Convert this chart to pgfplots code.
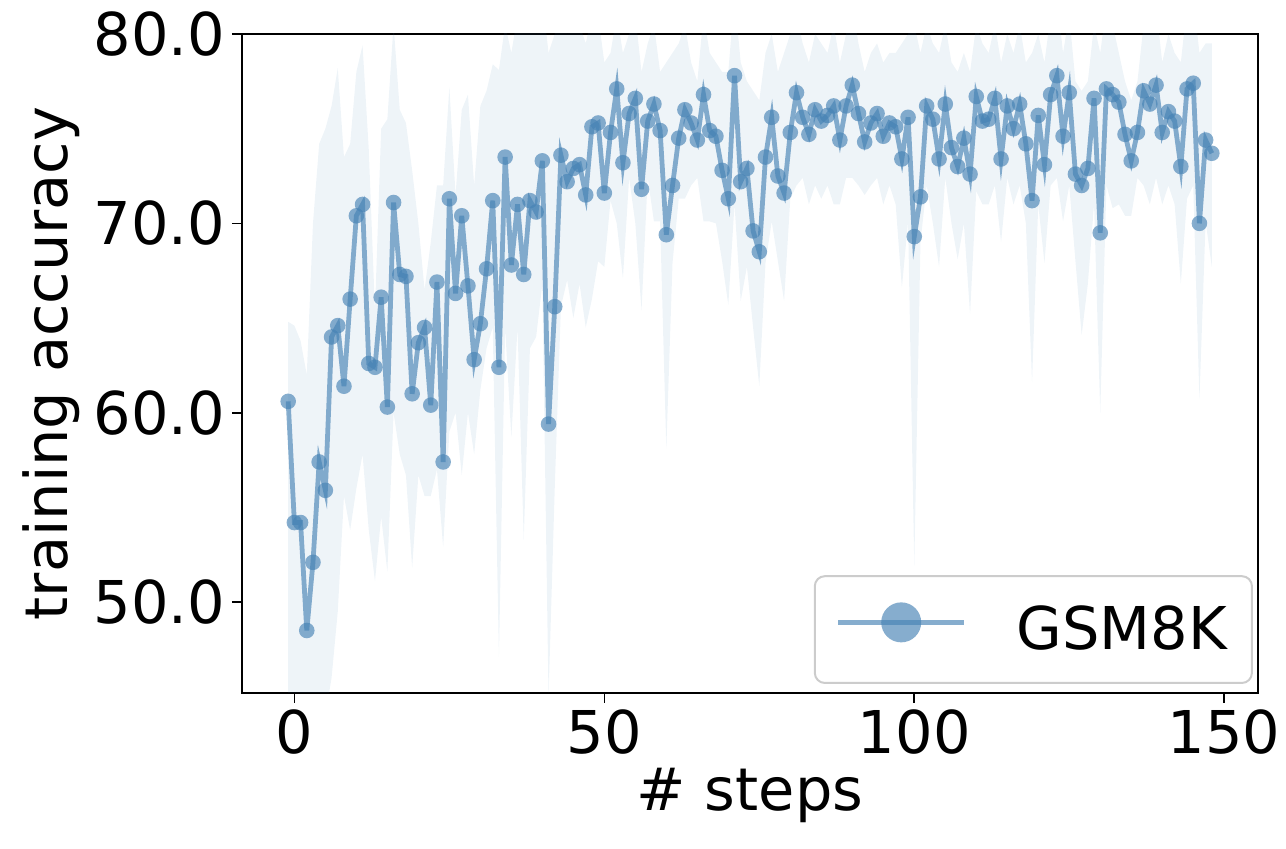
\documentclass[border=0pt]{standalone}
\usepackage{fontspec}
\setmainfont{DejaVu Sans}
\usepackage{pgfplots}
\usepackage{pgfplotstable}
\pgfplotsset{compat=1.18}
\usepgfplotslibrary{fillbetween}
\definecolor{steel}{HTML}{4682B4}

\pgfplotstableread{
x y lo hi
-1 60.6 44.0 64.8
0 54.2 44.0 64.6
1 54.2 44.0 63.8
2 48.5 44.0 62.0
3 52.1 44.0 70.0
4 57.4 44.0 74.2
5 55.9 44.0 75.0
6 64.0 46.0 76.2
7 64.6 49.5 78.2
8 61.4 55.6 73.5
9 66.0 53.8 74.2
10 70.4 56.0 78.0
11 71.0 57.8 79.4
12 62.6 53.8 73.9
13 62.4 51.1 65.4
14 66.1 54.5 75.0
15 60.3 51.6 75.5
16 71.1 60.0 80.5
17 67.3 57.8 76.0
18 67.2 56.7 75.3
19 61.0 51.8 72.8
20 63.7 56.7 70.0
21 64.5 55.6 66.5
22 60.4 55.6 69.0
23 66.9 57.0 72.0
24 57.4 52.9 72.0
25 71.3 59.0 77.2
26 66.3 60.0 71.5
27 70.4 56.7 76.0
28 66.7 60.0 76.8
29 62.8 57.8 72.0
30 64.7 61.2 76.2
31 67.6 63.4 77.0
32 71.2 64.5 78.4
33 62.4 47.1 78.1
34 73.5 64.5 80.5
35 67.8 58.7 79.0
36 71.0 64.5 81.0
37 67.3 53.3 80.5
38 71.2 63.4 81.0
39 70.6 64.0 80.0
40 73.3 66.8 82.0
41 59.4 45.0 79.0
42 65.6 56.0 80.0
43 73.6 65.6 81.0
44 72.2 67.0 80.0
45 72.9 65.0 81.0
46 73.1 66.8 80.5
47 71.5 64.5 79.5
48 75.1 66.0 81.0
49 75.3 68.0 81.0
50 71.6 67.7 78.5
51 74.8 71.2 79.0
52 77.1 70.0 81.0
53 73.2 67.1 79.0
54 75.8 72.4 80.0
55 76.6 70.0 81.0
56 71.8 65.4 78.0
57 75.4 72.4 79.5
58 76.3 70.1 80.5
59 74.9 70.1 78.0
60 69.4 58.1 78.5
61 72.0 67.9 79.0
62 74.5 71.3 79.5
63 76.0 71.3 80.5
64 75.3 72.0 78.5
65 74.4 72.4 77.5
66 76.8 70.1 81.0
67 74.9 70.1 79.0
68 74.6 70.0 78.5
69 72.8 68.0 78.0
70 71.3 65.7 78.0
71 77.8 71.0 82.0
72 72.2 65.9 78.5
73 72.9 67.7 77.5
74 69.6 64.5 77.0
75 68.5 61.4 76.5
76 73.5 67.9 79.0
77 75.6 70.1 80.0
78 72.5 68.0 78.0
79 71.6 65.9 79.0
80 74.8 71.3 80.0
81 76.9 72.0 81.0
82 75.6 72.4 79.5
83 74.7 71.0 78.5
84 76.0 72.0 80.0
85 75.4 71.3 79.5
86 75.7 72.0 79.0
87 76.2 71.0 80.5
88 74.4 71.0 78.5
89 76.2 72.4 80.0
90 77.3 72.4 81.5
91 75.8 72.0 79.5
92 74.3 71.5 78.0
93 75.3 72.0 79.0
94 75.8 72.4 79.5
95 74.6 71.0 78.5
96 75.3 72.0 79.0
97 75.1 71.0 79.0
98 73.4 66.6 79.5
99 75.6 70.1 80.0
100 69.3 51.9 80.5
101 71.4 69.0 79.0
102 76.2 72.0 80.5
103 75.5 70.0 79.5
104 73.4 67.7 79.0
105 76.3 72.4 80.5
106 74.0 70.0 78.5
107 73.0 68.1 78.0
108 74.5 70.0 79.0
109 72.6 65.2 78.0
110 76.7 71.7 80.5
111 75.4 71.0 79.5
112 75.5 71.0 79.0
113 76.6 72.0 80.5
114 73.4 69.0 78.5
115 76.2 72.4 80.0
116 75.0 71.0 79.0
117 76.3 72.0 80.5
118 74.2 70.0 78.5
119 71.2 61.6 79.0
120 75.7 71.0 80.0
121 73.1 67.9 78.5
122 76.8 72.0 81.0
123 77.8 72.4 82.0
124 74.6 70.1 79.0
125 76.9 72.0 81.0
126 72.6 68.0 77.5
127 72.0 64.1 77.0
128 72.9 66.8 77.5
129 76.6 71.0 80.5
130 69.5 60.0 79.0
131 77.1 72.0 81.5
132 76.8 70.8 80.5
133 76.4 71.0 79.0
134 74.7 70.4 77.5
135 73.3 70.4 76.5
136 74.8 72.4 77.5
137 77.0 72.0 80.5
138 76.3 71.0 80.0
139 77.3 72.4 81.5
140 74.8 71.0 78.5
141 75.9 72.0 80.0
142 75.4 71.0 79.0
143 73.0 66.8 78.5
144 77.1 71.3 81.5
145 77.4 72.0 82.0
146 70.0 60.7 79.0
147 74.4 70.1 79.5
148 73.7 67.7 79.5
}\acc

\begin{document}
\begin{tikzpicture}
\begin{axis}[
  scale only axis, width=508pt, height=329.5pt,
  xmin=-8.45, xmax=155.45, ymin=45.2, ymax=80,
  xtick={0,50,100,150}, ytick={50,60,70,80},
  xtick pos=bottom, ytick pos=left,
  tick align=outside, major tick length=5pt,
  tick style={black, line width=0.8pt},
  axis line style={line width=1pt},
  /pgf/number format/assume math mode=true,
  yticklabel style={/pgf/number format/fixed, /pgf/number format/fixed zerofill, /pgf/number format/precision=1},
  tick label style={font=\fontsize{29.5}{34}\selectfont},
  label style={font=\fontsize{29.5}{34}\selectfont},
  xlabel={\# steps}, ylabel={training accuracy},
  legend style={at={(0.995,0.0137)}, anchor=south east, draw=black!20, line width=1pt,
    rounded corners=5pt, fill=white, fill opacity=0.8, text opacity=1,
    inner xsep=10.5pt, inner ysep=13pt, font=\fontsize{29.5}{34}\selectfont,
    nodes={inner sep=2pt},
    /tikz/every odd column/.append style={column sep=23pt}},
  legend image code/.code={
    \path[draw=steel, draw opacity=0.65, line width=2.4pt] (0pt,0.36em) -- (63pt,0.36em);
    \path[fill=steel, fill opacity=0.65, draw=none] (31.5pt,0.36em) circle (10pt);
  },
]
\coordinate (ll) at (rel axis cs:0,0);
\coordinate (ur) at (rel axis cs:1,1);
\addplot[name path=up, draw=none, forget plot] table[x=x, y=hi]{\acc};
\addplot[name path=dn, draw=none, forget plot] table[x=x, y=lo]{\acc};
\addplot[fill=steel, fill opacity=0.09, draw=none, forget plot] fill between[of=up and dn];
\addplot[steel, draw opacity=0.65, line width=2.4pt, no marks, forget plot] table[x=x, y=y]{\acc};
\addplot[only marks, mark=*, mark size=3.9pt,
  mark options={draw opacity=0, line width=0pt, fill=steel, fill opacity=0.65}] table[x=x, y=y]{\acc};
\addlegendentry{GSM8K}
\end{axis}
\pgfresetboundingbox
\path[use as bounding box] ([shift={(-121pt,-78pt)}]ll) rectangle ([shift={(14pt,17pt)}]ur);
\end{tikzpicture}
\end{document}
